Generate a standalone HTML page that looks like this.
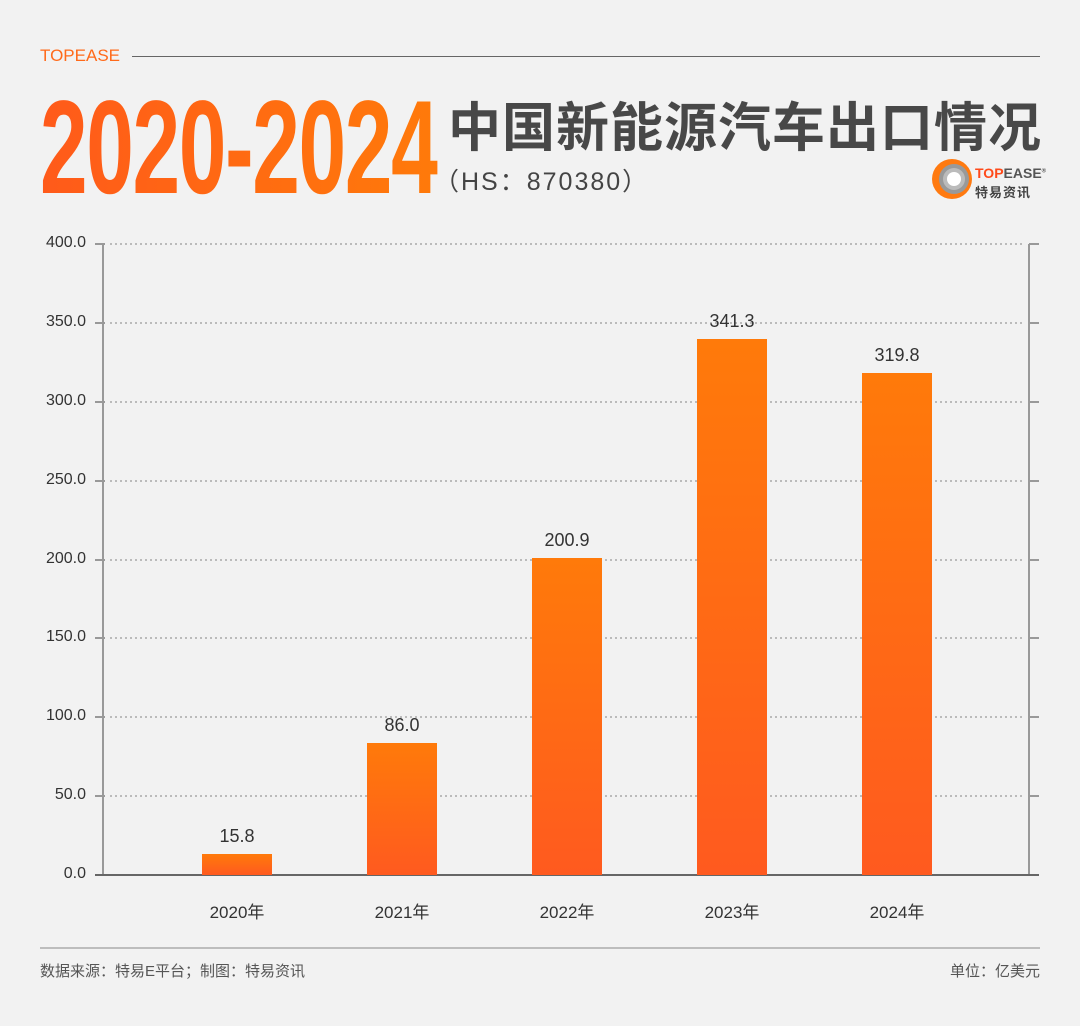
<!DOCTYPE html>
<html><head><meta charset="utf-8"><style>
body{margin:0;width:1080px;height:1026px;background:#f2f2f2;position:relative;overflow:hidden;font-family:"Liberation Sans","Noto Sans CJK SC",sans-serif;}
.a{position:absolute;white-space:nowrap;}
.yl{position:absolute;left:0;width:86px;text-align:right;font-size:16px;color:#333;}
.bar{position:absolute;width:70px;background:linear-gradient(#ff7a0a,#ff5a1f);}
.v{position:absolute;width:110px;text-align:center;font-size:18px;color:#333;}
.x{position:absolute;width:110px;text-align:center;font-size:17px;color:#333;top:898px;}
</style></head><body>
<div class="a" style="left:40px;top:46px;font-size:17px;color:#ff6a1a;">TOPEASE</div>
<div class="a" style="left:132px;top:56px;width:908px;height:1px;background:#666;"></div>
<div class="a" style="left:40px;top:72px;font-size:133px;font-weight:bold;transform:scaleX(0.643);transform-origin:0 0;letter-spacing:-2px;background:linear-gradient(90deg,#ff5a1a,#ff7a0a);-webkit-background-clip:text;color:transparent;">2020-2024</div>
<div class="a" style="left:448px;top:86px;font-size:53px;font-weight:bold;color:#484848;letter-spacing:1px;">中国新能源汽车出口情况</div>
<div class="a" style="left:434px;top:162px;font-size:25px;color:#444;letter-spacing:2px;">（HS：870380）</div>
<svg class="a" style="left:931px;top:158px" width="42" height="42"><circle cx="21" cy="21" r="20" fill="#ff7a10"/><circle cx="23" cy="21" r="15" fill="#999"/><circle cx="23" cy="21" r="11" fill="#bbb"/><circle cx="23" cy="21" r="7" fill="#fff"/></svg>
<div class="a" style="left:975px;top:165px;font-size:14px;font-weight:bold;color:#555;"><span style="color:#ff4a1a">TOP</span>EASE<sup style="font-size:6px">®</sup></div>
<div class="a" style="left:975px;top:182px;font-size:13px;font-weight:bold;color:#444;letter-spacing:1px;">特易资讯</div>
<svg class="a" style="left:0;top:0" width="1080" height="1026">
<g stroke="#bbb" stroke-width="2" stroke-dasharray="2,3">
<line x1="110" x2="1022" y1="244" y2="244"/><line x1="110" x2="1022" y1="323" y2="323"/><line x1="110" x2="1022" y1="402" y2="402"/><line x1="110" x2="1022" y1="481" y2="481"/><line x1="110" x2="1022" y1="560" y2="560"/><line x1="110" x2="1022" y1="638" y2="638"/><line x1="110" x2="1022" y1="717" y2="717"/><line x1="110" x2="1022" y1="796" y2="796"/>
</g>
<g stroke="#999" stroke-width="2">
<line x1="103" x2="103" y1="244" y2="875"/><line x1="1029" x2="1029" y1="244" y2="875"/>
<path d="M95 244h10M95 323h10M95 402h10M95 481h10M95 560h10M95 638h10M95 717h10M95 796h10M1029 244h10M1029 323h10M1029 402h10M1029 481h10M1029 560h10M1029 638h10M1029 717h10M1029 796h10"/>
</g>
<line x1="95" x2="1039" y1="875" y2="875" stroke="#666" stroke-width="2"/>
<line x1="40" x2="1040" y1="948" y2="948" stroke="#888" stroke-width="1"/>
</svg>
<div class="yl" style="top:234px">400.0</div><div class="yl" style="top:313px">350.0</div><div class="yl" style="top:392px">300.0</div><div class="yl" style="top:471px">250.0</div><div class="yl" style="top:550px">200.0</div><div class="yl" style="top:628px">150.0</div><div class="yl" style="top:707px">100.0</div><div class="yl" style="top:786px">50.0</div><div class="yl" style="top:865px">0.0</div>
<div class="bar" style="left:202px;top:854px;height:21px"></div>
<div class="bar" style="left:367px;top:743px;height:132px"></div>
<div class="bar" style="left:532px;top:558px;height:317px"></div>
<div class="bar" style="left:697px;top:339px;height:536px"></div>
<div class="bar" style="left:862px;top:373px;height:502px"></div>
<div class="v" style="left:182px;top:826px">15.8</div>
<div class="v" style="left:347px;top:715px">86.0</div>
<div class="v" style="left:512px;top:530px">200.9</div>
<div class="v" style="left:677px;top:311px">341.3</div>
<div class="v" style="left:842px;top:345px">319.8</div>
<div class="x" style="left:182px">2020年</div><div class="x" style="left:347px">2021年</div><div class="x" style="left:512px">2022年</div><div class="x" style="left:677px">2023年</div><div class="x" style="left:842px">2024年</div>
<div class="a" style="left:40px;top:960px;font-size:15px;color:#555;">数据来源：特易E平台；制图：特易资讯</div>
<div class="a" style="right:40px;top:960px;font-size:15px;color:#555;">单位：亿美元</div>
</body></html>
